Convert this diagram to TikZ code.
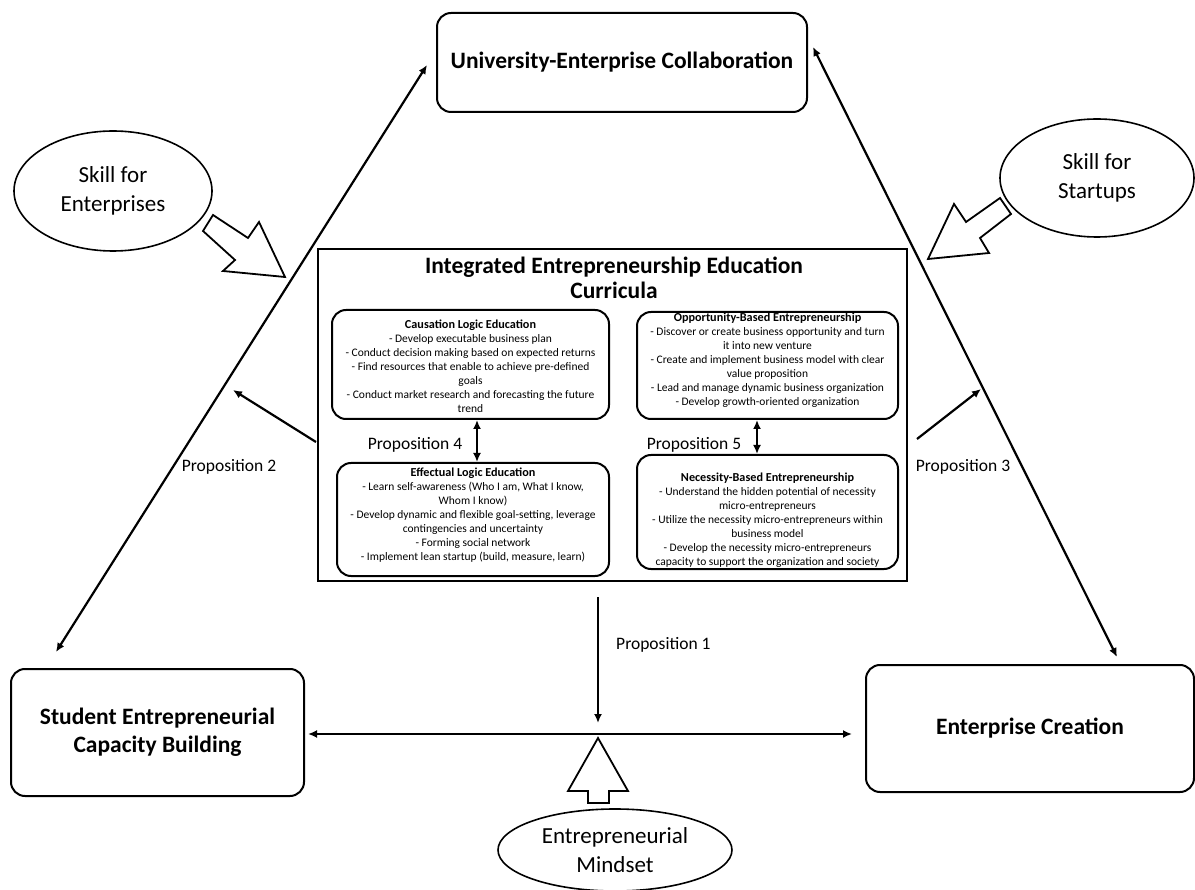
\documentclass[tikz,border=0pt]{standalone}
\usepackage{fontspec}
\setmainfont{Carlito}
\usetikzlibrary{shapes.geometric,arrows.meta}
\newcommand{\hdfont}{\fontsize{12.2}{14}\selectfont\bfseries}
\begin{document}
\begin{tikzpicture}[x=1pt,y=-1pt,
  mainbox/.style={draw, line width=2pt, rounded corners=14pt, align=center,
    font=\fontsize{23.5}{28}\selectfont\bfseries, inner sep=0pt},
  innerbox/.style={draw, line width=2pt, rounded corners=14pt, inner sep=0pt},
  innertext/.style={align=center, inner sep=0pt, font=\fontsize{11.5}{14}\selectfont},
  oval/.style={draw, ellipse, line width=1.6pt, inner sep=0pt, align=center,
    font=\fontsize{23}{29}\selectfont},
  conn/.style={line width=2.2pt, -{Latex[length=9pt,width=8pt]}},
  dconn/.style={line width=2.2pt, {Latex[length=9pt,width=8pt]}-{Latex[length=9pt,width=8pt]}},
  proplabel/.style={font=\fontsize{17.5}{20}\selectfont, inner sep=0pt},
  blockarrow/.style={draw, line width=1.8pt, fill=white, line join=miter}
]
\useasboundingbox (0,0) rectangle (1195,890);
\fill[white] (0,0) rectangle (1195,890);

% main boxes
\node[mainbox, minimum width=370pt, minimum height=99pt] (uec) at (622,62.5) {University-Enterprise Collaboration};
\node[mainbox, minimum width=293pt, minimum height=127pt] (student) at (157.5,732.5) {Student Entrepreneurial\\Capacity Building};
\node[mainbox, minimum width=328pt, minimum height=127pt] (ec) at (1030,728.5) {Enterprise Creation};

% ellipses
\node[oval, minimum width=198pt, minimum height=120pt] (se) at (113,191) {Skill for\\Enterprises};
\node[oval, minimum width=194pt, minimum height=118pt] (ss) at (1097,178) {Skill for\\Startups};
\node[oval, minimum width=234pt, minimum height=82pt] (em) at (615,850) {Entrepreneurial\\Mindset};

% central curricula box
\node[draw, line width=2.2pt, minimum width=589pt, minimum height=332pt, inner sep=0pt] (cur) at (612.5,415) {};
\node[align=center, inner sep=0pt, font=\fontsize{23.5}{25}\selectfont\bfseries] (curT) at (614,278) {Integrated Entrepreneurship Education\\Curricula};

% inner boxes
\node[innerbox, minimum width=277pt, minimum height=109pt] (cause) at (470.5,364.5) {};
\node[innerbox, minimum width=272pt, minimum height=113pt] (eff) at (473,519.5) {};
\node[innerbox, minimum width=261pt, minimum height=107pt] (opp) at (767.5,365.5) {};
\node[innerbox, minimum width=261pt, minimum height=114pt] (nec) at (767.5,512) {};

\node[innertext] (causeT) at (470.5,366) {{\hdfont Causation Logic Education}\\
- Develop executable business plan\\
- Conduct decision making based on expected returns\\
- Find resources that enable to achieve pre-defined\\
goals\\
- Conduct market research and forecasting the future\\
trend};
\node[innertext] (effT) at (473,515) {{\hdfont Effectual Logic Education}\\
- Learn self-awareness (Who I am, What I know,\\
Whom I know)\\
- Develop dynamic and flexible goal-setting, leverage\\
contingencies and uncertainty\\
- Forming social network\\
- Implement lean startup (build, measure, learn)};
\node[innertext] (oppT) at (767.5,360) {{\hdfont Opportunity-Based Entrepreneurship}\\
- Discover or create business opportunity and turn\\
it into new venture\\
- Create and implement business model with clear\\
value proposition\\
- Lead and manage dynamic business organization\\
- Develop growth-oriented organization};
\node[innertext] (necT) at (767.5,520) {{\hdfont Necessity-Based Entrepreneurship}\\
- Understand the hidden potential of necessity\\
micro-entrepreneurs\\
- Utilize the necessity micro-entrepreneurs within\\
business model\\
- Develop the necessity micro-entrepreneurs\\
capacity to support the organization and society};

% propositions 4 and 5
\coordinate (x4) at (477,0);
\coordinate (x5) at (757,0);
\draw[dconn, line width=2pt] (cause.south -| x4) -- (eff.north -| x4);
\draw[dconn, line width=2pt] (opp.south -| x5) -- (nec.north -| x5);
\node[proplabel] (p4) at (415,445) {Proposition 4};
\node[proplabel] (p5) at (694,445) {Proposition 5};

% long diagonals
\coordinate (lbot) at (56,652);
\coordinate (ltop) at (427,65);
\coordinate (rbot) at (1117,657);
\coordinate (rtop) at (813,47);
\draw[dconn] (lbot) -- (ltop);
\draw[dconn] (rbot) -- (rtop);

% horizontal
\coordinate (hl) at (308,734);
\coordinate (hr) at (852,734);
\draw[dconn] (hl) -- (hr);

% proposition 1
\coordinate (p1s) at (598,597);
\coordinate (p1e) at (598,723);
\draw[conn] (p1s) -- (p1e);
\node[proplabel, anchor=west] (p1) at (616,645) {Proposition 1};

% propositions 2 and 3
\coordinate (p2s) at (316,442);
\coordinate (p2e) at (233,390);
\draw[conn] (p2s) -- (p2e);
\node[proplabel] (p2) at (229,467) {Proposition 2};
\coordinate (p3s) at (917,439);
\coordinate (p3e) at (981,389);
\draw[conn] (p3s) -- (p3e);
\node[proplabel] (p3) at (963,467) {Proposition 3};

% block arrows
\draw[blockarrow] (213,215) -- (248,238) -- (259,222) -- (285,277) -- (223,271) -- (235,260) -- (203,231) -- cycle;
\draw[blockarrow] (1000,198) -- (966,222) -- (954,204) -- (928,259) -- (989,253) -- (980,238) -- (1011,214) -- cycle;
\draw[blockarrow] (588,803) -- (588,791) -- (568,791) -- (598,738) -- (628,791) -- (609,791) -- (609,803) -- cycle;
\end{tikzpicture}
\end{document}
